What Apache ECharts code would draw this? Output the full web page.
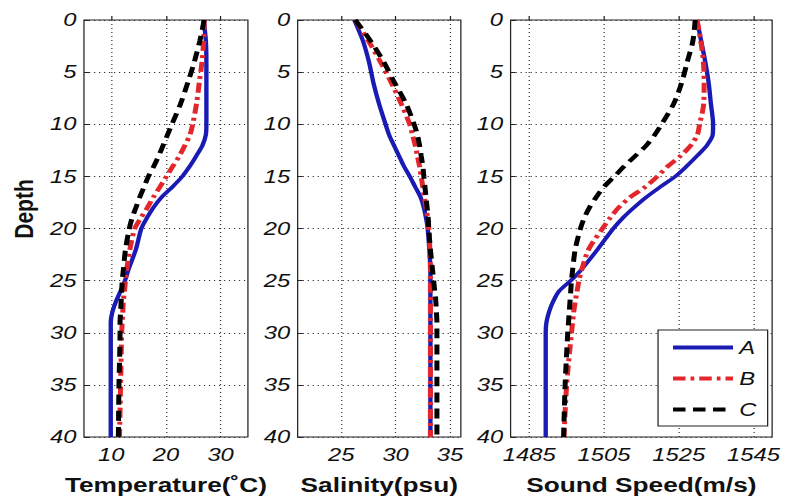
<!DOCTYPE html>
<html><head><meta charset="utf-8">
<script src="https://cdn.jsdelivr.net/npm/echarts@6/dist/echarts.min.js"></script>
<style>
html,body{margin:0;padding:0;background:#fff;overflow:hidden}
#wrap{width:786px;height:503px;overflow:hidden;background:#fff}
#chart{width:629px;height:503px;transform-origin:0 0;transform:scaleX(1.2496)}
</style>
</head><body><div id="wrap"><div id="chart"></div></div>
<script>
// Depth samples shared by every profile
const depth = [0, 2, 4, 6, 8, 10, 11, 12, 13, 14, 15, 16, 17, 18, 19, 20, 22, 24, 25, 26, 27, 28, 29, 30, 35, 40];

// Temperature profiles (deg C)
const tempA = [26.9, 27.3, 27.4, 27.4, 27.4, 27.4, 27.3, 26.7, 25.6, 24.4, 23.0, 21.2, 19.2, 17.7, 16.5, 15.5, 14.5, 13.1, 12.5, 11.7, 10.85, 10.2, 9.9, 9.9, 9.9, 9.9];
const tempB = [27.0, 26.9, 26.6, 26.1, 25.6, 24.9, 24.4, 23.5, 22.5, 21.3, 20.1, 18.9, 17.7, 16.6, 15.4, 14.3, 13.4, 12.8, 12.6, 12.4, 12.2, 12.1, 12.0, 11.9, 11.7, 11.5];
const tempC = [27.0, 26.2, 25.2, 24.0, 22.7, 21.1, 20.3, 19.5, 18.7, 17.8, 16.8, 16.0, 15.2, 14.5, 13.8, 13.3, 12.6, 12.2, 12.0, 11.9, 11.8, 11.7, 11.6, 11.6, 11.4, 11.3];

// Salinity profiles (psu)
const salA = [26.2, 27.0, 27.55, 27.96, 28.47, 29.08, 29.4, 29.84, 30.3, 30.75, 31.3, 31.8, 32.3, 32.6, 32.8, 32.95, 33.1, 33.2, 33.2, 33.2, 33.2, 33.2, 33.2, 33.2, 33.2, 33.2];
const salB = [26.3, 27.5, 28.6, 29.6, 30.5, 31.3, 31.55, 31.8, 32.0, 32.2, 32.35, 32.5, 32.65, 32.8, 32.95, 33.05, 33.15, 33.2, 33.2, 33.2, 33.2, 33.2, 33.2, 33.2, 33.2, 33.2];
const salC = [26.3, 27.7, 28.9, 29.9, 30.95, 31.7, 32.0, 32.2, 32.35, 32.5, 32.6, 32.7, 32.8, 32.9, 33.0, 33.05, 33.2, 33.4, 33.5, 33.6, 33.7, 33.75, 33.8, 33.8, 33.8, 33.8];

// Sound speed profiles (m/s)
const soundA = [1529.9, 1531.0, 1532.1, 1533.0, 1533.6, 1534.2, 1534.1, 1532.6, 1530.0, 1527.2, 1524.1, 1520.1, 1516.3, 1513.0, 1510.0, 1507.5, 1503.3, 1498.8, 1496.1, 1493.0, 1491.4, 1490.3, 1489.6, 1489.4, 1489.4, 1489.4];
const soundB = [1529.9, 1530.9, 1531.6, 1531.8, 1531.7, 1530.6, 1530.0, 1528.3, 1525.6, 1522.2, 1519.3, 1516.1, 1512.0, 1508.9, 1506.6, 1504.6, 1500.9, 1499.0, 1498.3, 1497.8, 1497.3, 1496.9, 1496.6, 1496.3, 1495.0, 1494.3];
const soundC = [1529.4, 1528.8, 1527.3, 1525.8, 1523.7, 1520.4, 1518.6, 1516.4, 1513.5, 1510.5, 1507.8, 1505.0, 1502.9, 1501.1, 1499.7, 1498.7, 1497.3, 1496.6, 1496.3, 1496.1, 1495.9, 1495.7, 1495.5, 1495.3, 1494.6, 1494.2];

// Tick values
const tempTicks = [10, 20, 30];
const salTicks = [25, 30, 35];
const soundTicks = [1485, 1505, 1525, 1545];

const FONT = '"Liberation Sans", Arial, sans-serif';

const panels = [
  { left: 67.2, width: 131.2, min: 5, max: 35, ticks: tempTicks, name: 'Temperature(\u02DAC)', data: [tempA, tempB, tempC] },
  { left: 238.2, width: 130.6, min: 21, max: 36, ticks: salTicks, name: 'Salinity(psu)', data: [salA, salB, salC] },
  { left: 408.6, width: 209.3, min: 1480, max: 1550, ticks: soundTicks, name: 'Sound Speed(m/s)', data: [soundA, soundB, soundC] }
];

const styles = [
  { name: 'A', color: '#1a1ab4', width: 3.5, type: 'solid' },
  { name: 'B', color: '#e3262b', width: 4, type: [10, 4, 3, 4] },
  { name: 'C', color: '#000000', width: 4, type: [10, 6] }
];

const dotted = { type: [1, 3], color: '#333', width: 1 };
const plain = v => String(v);

const grid = [], xAxis = [], yAxis = [], series = [];
panels.forEach((p, i) => {
  grid.push({ left: p.left, top: 20, width: p.width, height: 417, show: true, borderColor: '#222', borderWidth: 1, backgroundColor: 'transparent' });
  xAxis.push({
    type: 'value', gridIndex: i, min: p.min, max: p.max, position: 'bottom',
    axisLine: { show: false },
    axisTick: { inside: true, length: 4, customValues: p.ticks, lineStyle: { color: '#222' } },
    axisLabel: { customValues: p.ticks, formatter: plain, margin: 8, fontStyle: 'italic', fontSize: 19, fontFamily: FONT, color: '#111' },
    splitLine: { show: true, lineStyle: dotted },
    name: p.name, nameLocation: 'middle', nameGap: 37,
    nameTextStyle: { fontWeight: 'bold', fontSize: 21, fontFamily: FONT, color: '#111' }
  });
  yAxis.push({
    type: 'value', gridIndex: i, inverse: true, min: 0, max: 40, interval: 5,
    axisLine: { show: false },
    axisTick: { inside: true, length: 4, lineStyle: { color: '#222' } },
    axisLabel: { formatter: plain, margin: 6, fontStyle: 'italic', fontSize: 19, fontFamily: FONT, color: '#111' },
    splitLine: { show: true, lineStyle: dotted }
  });
  styles.forEach((s, k) => {
    series.push({
      type: 'line', name: s.name, xAxisIndex: i, yAxisIndex: i,
      data: depth.map((d, j) => [p.data[k][j], d]),
      symbol: 'none', smooth: 0.3, silent: true,
      color: s.color,
      lineStyle: { color: s.color, width: s.width, type: s.type, cap: 'butt' },
      emphasis: { disabled: true }
    });
  });
});

const chart = echarts.init(document.getElementById('chart'), null, { renderer: 'svg' });
chart.setOption({
  animation: false,
  backgroundColor: '#fff',
  grid, xAxis, yAxis, series,
  legend: {
    data: ['A', 'B', 'C'], orient: 'vertical', left: 526.6, top: 330,
    padding: [8, 9, 7, 10], itemWidth: 48, itemHeight: 14, itemGap: 12,
    borderColor: '#222', borderWidth: 1, backgroundColor: '#fff',
    itemStyle: { opacity: 0 },
    lineStyle: { width: 4 },
    textStyle: { fontStyle: 'italic', fontSize: 19, fontFamily: FONT, color: '#111' },
    selectedMode: false, z: 10
  },
  graphic: [{
    type: 'text', x: 19.2, y: 209, rotation: Math.PI / 2,
    style: { text: 'Depth', font: 'bold 21px ' + FONT, fill: '#111', align: 'center', verticalAlign: 'middle' }
  }]
});
</script></body></html>
